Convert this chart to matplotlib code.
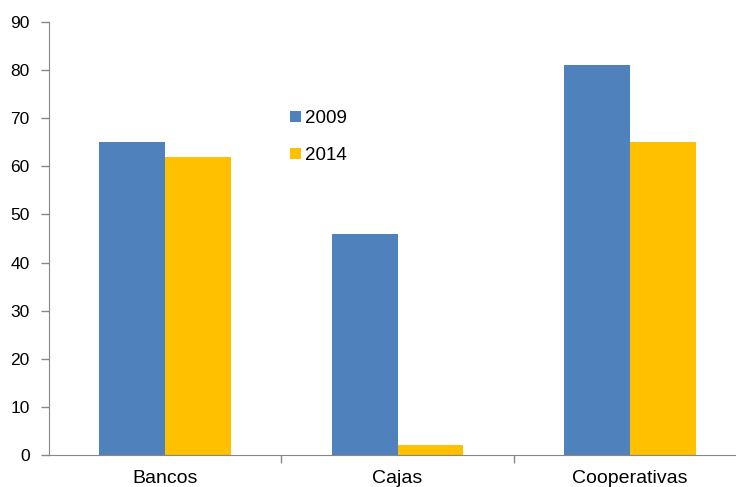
import numpy as np
from matplotlib import pyplot as plt

categories = ['Bancos', 'Cajas', 'Cooperativas']
values_2009 = [65, 46, 81]
values_2014 = [62, 2, 65]
series_labels = ['2009', '2014']

plt.rcParams['font.family'] = ['Liberation Sans', 'DejaVu Sans']

fig = plt.figure(figsize=(7.36, 4.87), dpi=100)
ax = fig.add_axes([49 / 736, 32 / 487, 697 / 736, 433 / 487])

x = np.arange(len(categories))
w = 0.284
ax.bar(x - w / 2, values_2009, w, color='#4F81BD', label=series_labels[0])
ax.bar(x + w / 2, values_2014, w, color='#FFC000', label=series_labels[1])

ax.set_xlim(-0.5, 2.5)
ax.set_ylim(0, 90)
ax.set_yticks(range(0, 91, 10))
ax.set_xticks(x)
ax.set_xticklabels(categories, fontsize=14)
ax.set_xticks([0.5, 1.5, 2.5], minor=True)
ax.tick_params(axis='x', which='major', length=0, pad=11)
ax.tick_params(axis='x', which='minor', length=6, color='#868686', width=1)
ax.tick_params(axis='y', length=6, color='#868686', width=1, labelsize=12.5, pad=8)

for s in ['top', 'right']:
    ax.spines[s].set_visible(False)
for s in ['left', 'bottom']:
    ax.spines[s].set_color('#868686')

ax.legend(loc='upper left', bbox_to_anchor=(0.322, 0.835), frameon=False,
          fontsize=13.5, handlelength=0.55, handleheight=0.55, handletextpad=0.25,
          labelspacing=1.05)

plt.savefig('out.png', dpi=100)
